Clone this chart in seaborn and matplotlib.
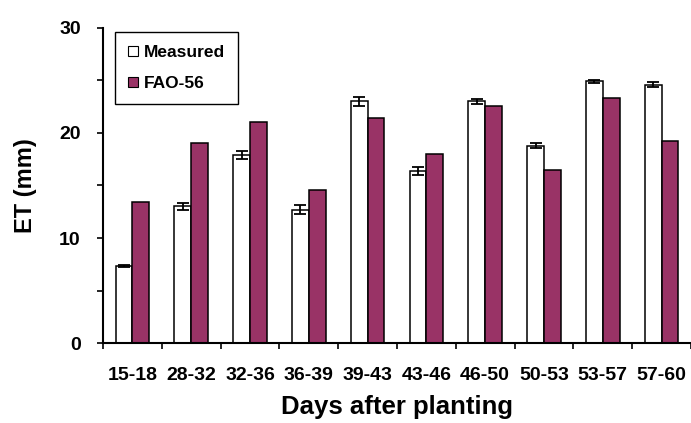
import pandas as pd
import matplotlib
matplotlib.use("Agg")
import matplotlib.pyplot as plt
import seaborn as sns
from matplotlib.ticker import MultipleLocator
from matplotlib.lines import Line2D

# Datos
periodos = ['15-18', '28-32', '32-36', '36-39', '39-43',
            '43-46', '46-50', '50-53', '53-57', '57-60']
medido = [7.3, 13.0, 17.9, 12.7, 23.0, 16.4, 23.0, 18.8, 24.9, 24.6]
medido_err = [0.1, 0.35, 0.35, 0.4, 0.45, 0.4, 0.25, 0.25, 0.15, 0.25]
fao56 = [13.4, 19.0, 21.0, 14.6, 21.4, 18.0, 22.6, 16.5, 23.3, 19.2]

df = pd.DataFrame({
    'periodo': periodos * 2,
    'et': medido + fao56,
    'serie': ['Measured'] * len(periodos) + ['FAO-56'] * len(periodos),
})

sns.set_style("ticks")
plt.rcParams['font.family'] = ['Liberation Sans', 'DejaVu Sans']
plt.rcParams['font.weight'] = 'bold'
for k in ['text.color', 'axes.labelcolor', 'xtick.color', 'ytick.color',
          'axes.edgecolor']:
    plt.rcParams[k] = 'black'

fig = plt.figure(figsize=(6.91, 4.23), dpi=100)
ax = fig.add_axes([0.149, 0.189, 0.851, 0.745])

colores = {'Measured': 'white', 'FAO-56': '#993366'}
sns.barplot(data=df, x='periodo', y='et', hue='serie', order=periodos,
            hue_order=['Measured', 'FAO-56'], palette=colores, saturation=1,
            width=0.57, edgecolor='black', linewidth=1.1, errorbar=None,
            legend=False, ax=ax)

# Barras de error solo para los valores medidos
xs = [p.get_x() + p.get_width() / 2 for p in ax.containers[0].patches]
ax.errorbar(xs, medido, yerr=medido_err, fmt='none', ecolor='black',
            elinewidth=1.3, capsize=4, capthick=1.3)

ax.set_ylim(0, 30)
ax.set_xlim(-0.5, 9.375)
ax.yaxis.set_major_locator(MultipleLocator(10))
ax.yaxis.set_minor_locator(MultipleLocator(5))
ax.set_xticks(range(len(periodos)))
ax.set_xticks([i - 0.5 for i in range(len(periodos) + 1)], minor=True)
ax.tick_params(axis='x', which='major', length=0, pad=17, labelsize=14)
ax.tick_params(axis='x', which='minor', length=4, width=1.2)
ax.tick_params(axis='y', which='both', length=4, width=1.2, pad=12,
               labelsize=14)
for sp in ['top', 'right']:
    ax.spines[sp].set_visible(False)
for sp in ['left', 'bottom']:
    ax.spines[sp].set_linewidth(1.5)

ax.set_xlabel('Days after planting', fontsize=18.5, fontweight='bold', labelpad=8)
ax.set_ylabel('ET (mm)', fontsize=17, fontweight='bold', labelpad=16)

# Leyenda con cuadrados pequeños
handles = [
    Line2D([], [], marker='s', linestyle='none', markersize=7.5,
           markerfacecolor=colores[k], markeredgecolor='black', markeredgewidth=0.8)
    for k in ['Measured', 'FAO-56']
]
leg = ax.legend(handles, ['Measured', 'FAO-56'], loc='upper left',
                bbox_to_anchor=(0.02, 0.987), borderaxespad=0, frameon=True,
                fancybox=False, framealpha=1, edgecolor='black',
                prop={'size': 12.5, 'weight': 'bold'}, handlelength=0.6,
                handletextpad=0.35, labelspacing=0.9, borderpad=0.75,
                handleheight=0.7)
leg.get_frame().set_linewidth(1.0)

fig.savefig('out.png', dpi=100)
